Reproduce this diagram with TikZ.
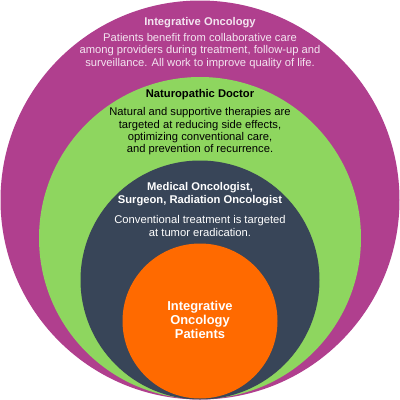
\documentclass[tikz,border=0pt]{standalone}
\usepackage{fontspec}
\setmainfont{Liberation Sans}
\definecolor{purp}{HTML}{B03F8E}
\definecolor{grn}{HTML}{8ED65F}
\definecolor{slate}{HTML}{384558}
\definecolor{orng}{HTML}{FF6A00}
\definecolor{ltxt}{HTML}{F3E4F0}
\begin{document}
\begin{tikzpicture}[x=1pt,y=-1pt,
  ring/.style={draw=none},
  ttl/.style={font=\fontsize{11.2}{13}\selectfont\bfseries, align=center, inner sep=0pt},
  bdy/.style={font=\fontsize{11.2}{12.3}\selectfont, align=center, inner sep=0pt}]
\useasboundingbox (0,0) rectangle (400,400);
\fill[purp] (200,200) circle (199.5);
\fill[grn] (200,238) circle (161);
\fill[slate] (200,280) circle (119.5);
\fill[orng] (200,321) circle (77.5);
\node[ttl, text=ltxt] (t1) at (200,23) {Integrative Oncology};
\node[bdy, text=ltxt] (b1) at (200,51) {Patients benefit from collaborative care\\among providers during treatment, follow-up and\\surveillance. All work to improve quality of life.};
\node[ttl, text=black] (t2) at (200,95) {Naturopathic Doctor};
\node[bdy, text=black] (b2) at (200,131.5) {Natural and supportive therapies are\\targeted at reducing side effects,\\optimizing conventional care,\\and prevention of recurrence.};
\node[ttl, text=white] (t3) at (200,194.5) {Medical Oncologist,\\Surgeon, Radiation Oncologist};
\node[bdy, text=white] (b3) at (200,226) {Conventional treatment is targeted\\at tumor eradication.};
\node[ttl, text=white, font=\fontsize{12.9}{14.2}\selectfont\bfseries] (p) at (200,320) {Integrative\\Oncology\\Patients};
\end{tikzpicture}
\end{document}
